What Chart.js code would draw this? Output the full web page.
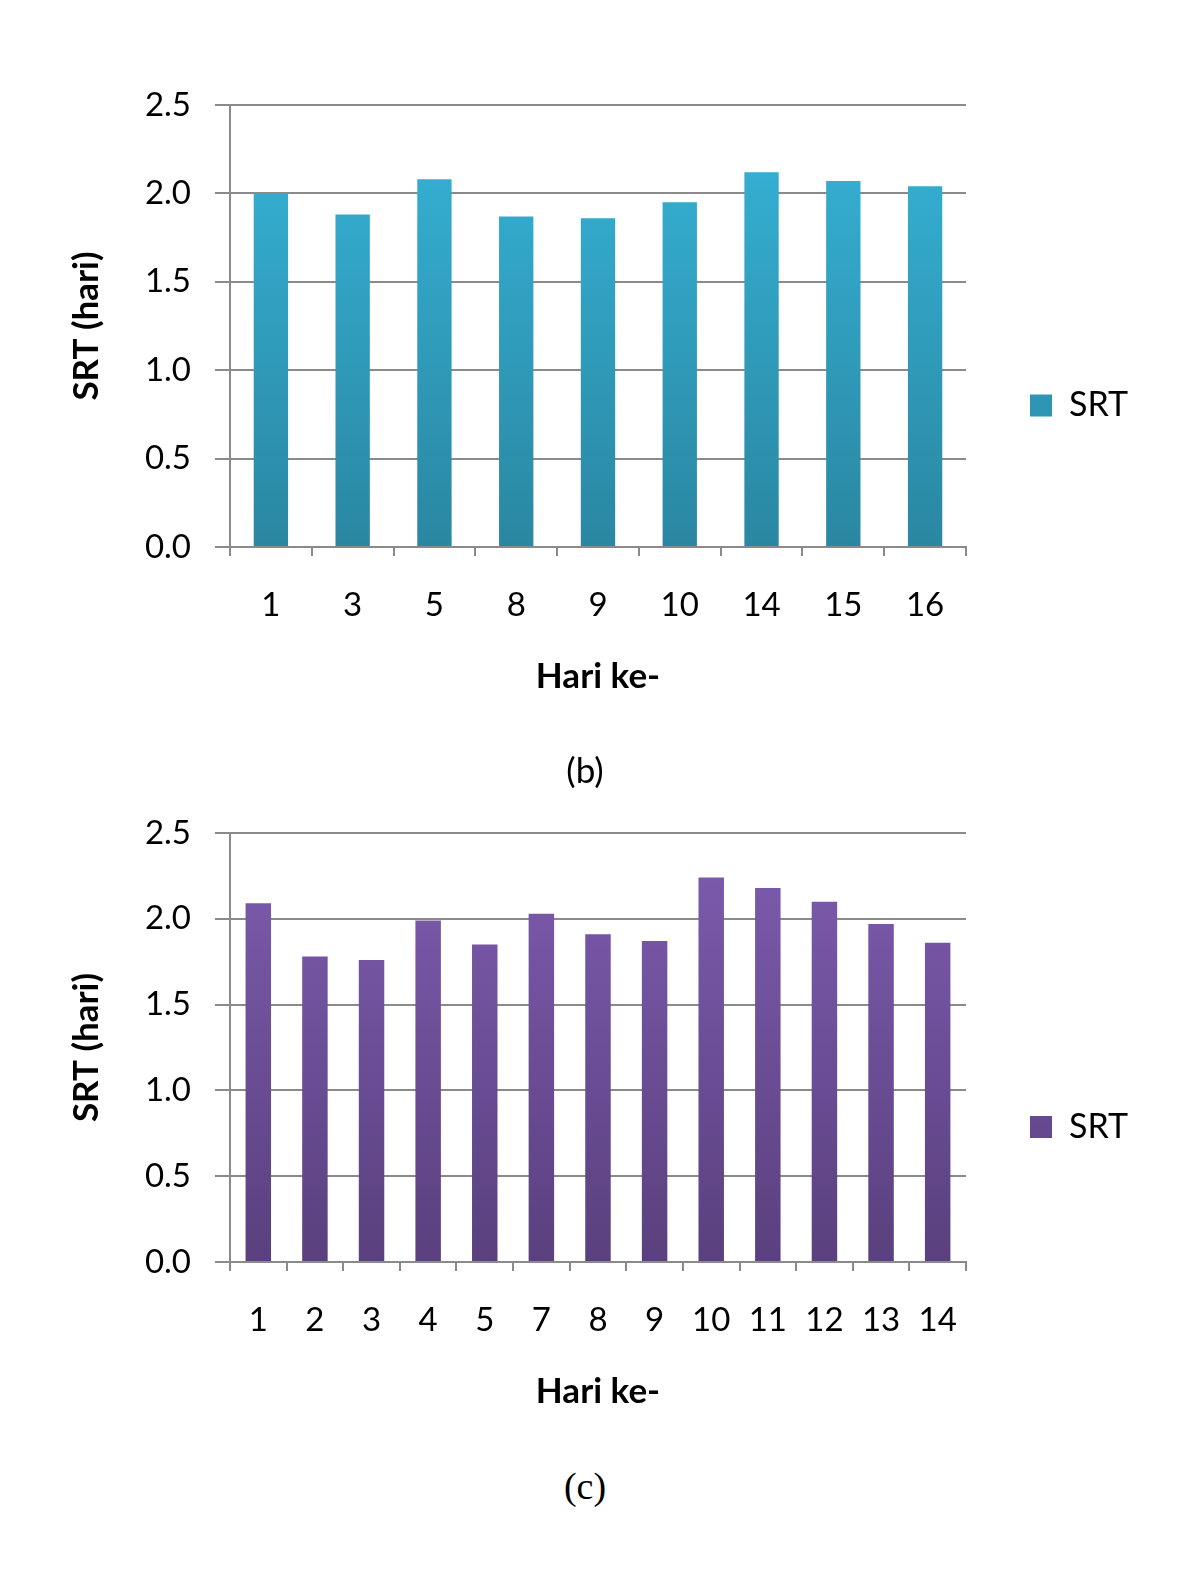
<!DOCTYPE html>
<html>
<head>
<meta charset="utf-8">
<script src="https://cdn.jsdelivr.net/npm/chart.js@4.4.0/dist/chart.umd.min.js"></script>
<style>
  html, body { margin: 0; padding: 0; background: #fff; }
  body { width: 1194px; height: 1593px; position: relative; overflow: hidden; }
  canvas { position: absolute; left: 0; }
  .caption {
    position: absolute; left: 0; width: 1170px; text-align: center;
    color: #000; z-index: 2;
  }
  #capB { font-family: Lato, sans-serif; font-size: 35px; line-height: 40px; top: 749px; }
  #capC { font-family: "Liberation Serif", "Times New Roman", serif; font-size: 38px; line-height: 42px; top: 1465px; }
</style>
</head>
<body>
<canvas id="chartB" width="1194" height="718" style="top:0px"></canvas>
<div class="caption" id="capB">(b)</div>
<canvas id="chartC" width="1194" height="705" style="top:728px"></canvas>
<div class="caption" id="capC">(c)</div>

<script>
// data
const daysB = ['1', '3', '5', '8', '9', '10', '14', '15', '16'];
const srtB = [2.00, 1.88, 2.08, 1.87, 1.86, 1.95, 2.12, 2.07, 2.04];

const daysC = ['1', '2', '3', '4', '5', '7', '8', '9', '10', '11', '12', '13', '14'];
const srtC = [2.09, 1.78, 1.76, 1.99, 1.85, 2.03, 1.91, 1.87, 2.24, 2.18, 2.10, 1.97, 1.86];

const yMin = 0;
const yMax = 2.5;
const yStep = 0.5;

const blue = ['#36b4d8', '#2a87a2'];
const purple = ['#7e5cb0', '#5a407e'];

const gridGray = '#8a8a8a';

// gradient isi batang
function barFill(colors) {
  return function (c) {
    const area = c.chart.chartArea;
    if (!area) return colors[0];
    const g = c.chart.ctx.createLinearGradient(0, area.top, 0, area.bottom);
    g.addColorStop(0, colors[0]);
    g.addColorStop(1, colors[1]);
    return g;
  };
}

function makeChart(id, labels, values, colors, barPct, padBottom) {
  const ctx = document.getElementById(id);
  return new Chart(ctx, {
    type: 'bar',
    data: {
      labels: labels,
      datasets: [{
        label: 'SRT',
        data: values,
        backgroundColor: barFill(colors),
        borderWidth: 0,
        barPercentage: barPct,
        categoryPercentage: 1
      }]
    },
    options: {
      responsive: false,
      animation: false,
      layout: { padding: { top: 105, left: 0, right: 56, bottom: padBottom } },
      plugins: {
        tooltip: { enabled: false },
        legend: {
          position: 'right',
          labels: {
            font: { family: 'Lato', size: 34 },
            color: '#000',
            boxWidth: 22,
            boxHeight: 22,
            padding: 64
          }
        }
      },
      scales: {
        x: {
          afterFit: function (s) { s.height = 159; },
          grid: {
            display: true,
            offset: true,
            drawOnChartArea: false,
            drawTicks: true,
            tickLength: 9,
            color: gridGray,
            lineWidth: 2
          },
          border: { display: true, color: gridGray, width: 2 },
          ticks: {
            font: { family: 'Lato', size: 33 },
            color: '#000',
            padding: 30,
            maxRotation: 0,
            autoSkip: false
          },
          title: {
            display: true,
            text: 'Hari ke-',
            font: { family: 'Lato', size: 35, weight: 'bold' },
            color: '#000',
            padding: { top: 0, bottom: 8 }
          }
        },
        y: {
          min: yMin,
          max: yMax,
          afterFit: function (s) { s.width = 230; },
          grid: {
            color: gridGray,
            lineWidth: 2,
            drawTicks: true,
            tickLength: 15
          },
          border: { display: true, color: gridGray, width: 2 },
          ticks: {
            stepSize: yStep,
            font: { family: 'Lato', size: 33 },
            color: '#000',
            padding: 24,
            callback: function (v) { return Number(v).toFixed(1); }
          },
          title: {
            display: true,
            text: 'SRT (hari)',
            font: { family: 'Lato', size: 35, weight: 'bold' },
            color: '#000',
            padding: { top: 66, bottom: 0 }
          }
        }
      }
    }
  });
}

makeChart('chartB', daysB, srtB, blue, 0.42, 12);
makeChart('chartC', daysC, srtC, purple, 0.45, 12);
</script>
</body>
</html>
